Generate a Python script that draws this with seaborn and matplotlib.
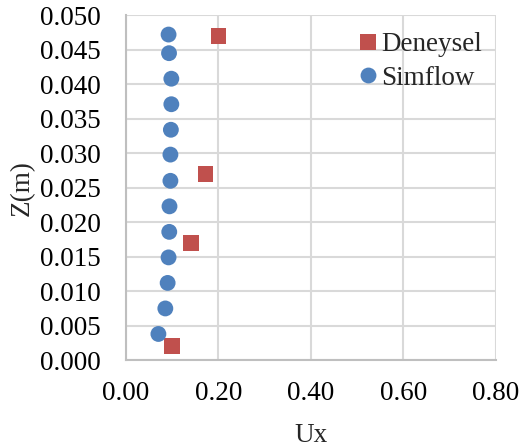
import matplotlib
matplotlib.use("Agg")
import matplotlib.pyplot as plt
import seaborn as sns
import pandas as pd

# Measured (Deneysel) velocity profile
deneysel_ux = [0.200, 0.172, 0.140, 0.099]
deneysel_z = [0.047, 0.027, 0.017, 0.002]

# Simulated (Simflow) velocity profile
simflow_ux = [0.092, 0.093, 0.098, 0.098, 0.097, 0.096, 0.096,
              0.094, 0.0935, 0.092, 0.090, 0.085, 0.070]
simflow_z = [0.0472, 0.0445, 0.0408, 0.0371, 0.0334, 0.0298, 0.0260,
             0.0223, 0.0186, 0.0149, 0.0112, 0.0075, 0.0038]

x_ticks = [0.0, 0.2, 0.4, 0.6, 0.8]
y_ticks = [i * 0.005 for i in range(11)]

df = pd.concat([
    pd.DataFrame({"Ux": deneysel_ux, "Z": deneysel_z, "series": "Deneysel"}),
    pd.DataFrame({"Ux": simflow_ux, "Z": simflow_z, "series": "Simflow"}),
], ignore_index=True)

sns.set_style("white")
plt.rcParams["font.family"] = ["Liberation Serif", "DejaVu Serif"]

FS = 19.5

fig = plt.figure(figsize=(5.23, 4.48), dpi=100)
ax = fig.add_axes([0.241, 0.196, 0.707, 0.770])

sns.scatterplot(
    data=df, x="Ux", y="Z", hue="series", style="series",
    hue_order=["Deneysel", "Simflow"], style_order=["Deneysel", "Simflow"],
    palette={"Deneysel": "#C0504D", "Simflow": "#4F81BD"},
    markers={"Deneysel": "s", "Simflow": "o"},
    s=130, linewidth=0, zorder=3, ax=ax,
)

ax.set_xlim(0, 0.8)
ax.set_ylim(0, 0.05)
ax.set_xticks(x_ticks)
ax.set_yticks(y_ticks)
ax.set_xticklabels([f"{v:.2f}" for v in x_ticks])
ax.set_yticklabels([f"{v:.3f}" for v in y_ticks])
ax.tick_params(axis="y", labelsize=FS, length=0, pad=18, colors="black")
ax.tick_params(axis="x", labelsize=FS, length=0, pad=15, colors="black")

ax.grid(True, color="#d9d9d9", linewidth=1.5, zorder=0)
ax.set_axisbelow(True)
for side in ["top", "right"]:
    ax.spines[side].set_visible(False)
for side in ["left", "bottom"]:
    ax.spines[side].set_color("#bfbfbf")
    ax.spines[side].set_linewidth(1.5)

ax.set_xlabel("Ux", fontsize=FS, labelpad=12)
ax.set_ylabel("Z(m)", fontsize=FS, labelpad=4)

leg = ax.legend(
    loc="upper left", bbox_to_anchor=(0.595, 0.982), frameon=False,
    fontsize=FS, handlelength=0.8, handletextpad=0.1, labelspacing=0.32,
    borderaxespad=0, markerscale=1.0,
)

fig.savefig("out.png", dpi=100, facecolor="white")
